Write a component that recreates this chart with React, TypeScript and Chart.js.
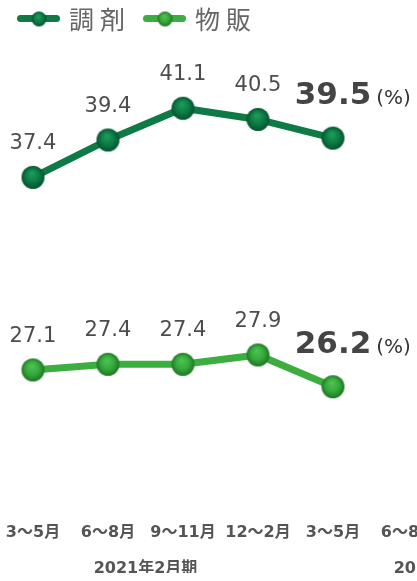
import { useEffect, useRef } from 'react';
import { Chart, registerables } from 'chart.js';

Chart.register(...registerables);

const categories = ['3〜5月', '6〜8月', '9〜11月', '12〜2月', '3〜5月', '6〜8月', '9〜11月', '12〜2月'];
const fiscalYears = ['2021年2月期', '2022年2月期'];
const quartersPerYear = 4;
const seriesNames = ['調剤', '物販'];
const dispensing: (number | null)[] = [37.4, 39.4, 41.1, 40.5, 39.5, null, null, null];
const merchandise: (number | null)[] = [27.1, 27.4, 27.4, 27.9, 26.2, null, null, null];
const unitLabel = '(%)';

const palette = [
  { line: '#0e7a46', light: '#1c9a5c', mid: '#0c7a45', dark: '#07532d' },
  { line: '#3bae3f', light: '#4cc152', mid: '#35a83b', dark: '#1f7624' },
];

function makePoint(r: number, c: { light: string; mid: string; dark: string }) {
  const s = Math.ceil(r * 2 + 2);
  const cv = document.createElement('canvas');
  cv.width = s;
  cv.height = s;
  const ctx = cv.getContext('2d')!;
  const cx = s / 2;
  const cy = s / 2;
  const g = ctx.createRadialGradient(cx - r * 0.1, cy - r * 0.35, r * 0.1, cx, cy, r);
  g.addColorStop(0, c.light);
  g.addColorStop(0.55, c.mid);
  g.addColorStop(1, c.dark);
  ctx.fillStyle = g;
  ctx.beginPath();
  ctx.arc(cx, cy, r, 0, Math.PI * 2);
  ctx.fill();
  return cv;
}

const numFont = '"DejaVu Sans", "Noto Sans CJK JP", sans-serif';

export default function App() {
  const ref = useRef<HTMLCanvasElement>(null);

  useEffect(() => {
    if (!ref.current) return;
    const bigPoints = palette.map((c) => makePoint(11.5, c));
    const legendPoints = palette.map((c) => makePoint(7.5, c));

    const labelPlugin = {
      id: 'valueLabels',
      afterDatasetsDraw(chart: any) {
        const ctx = chart.ctx as CanvasRenderingContext2D;
        chart.data.datasets.forEach((ds: any, di: number) => {
          const meta = chart.getDatasetMeta(di);
          const vals = ds.data as (number | null)[];
          let last = -1;
          vals.forEach((v, i) => {
            if (v != null) last = i;
          });
          meta.data.forEach((pt: any, i: number) => {
            const v = vals[i];
            if (v == null) return;
            const txt = v.toFixed(1);
            ctx.save();
            ctx.textAlign = 'center';
            ctx.textBaseline = 'alphabetic';
            if (i === last) {
              ctx.font = `bold 31px ${numFont}`;
              ctx.fillStyle = '#444444';
              ctx.fillText(txt, pt.x, pt.y - 34);
              const w = ctx.measureText(txt).width;
              ctx.font = `20px ${numFont}`;
              ctx.textAlign = 'left';
              ctx.fillStyle = '#333333';
              ctx.fillText(unitLabel, pt.x + w / 2 + 5, pt.y - 34);
            } else {
              ctx.font = `21px ${numFont}`;
              ctx.fillStyle = '#4d4d4d';
              ctx.fillText(txt, pt.x, pt.y - 28);
            }
            ctx.restore();
          });
        });
      },
    };

    const legendPlugin = {
      id: 'lineLegend',
      afterDraw(chart: any) {
        const ctx = chart.ctx as CanvasRenderingContext2D;
        ctx.save();
        let x = 17;
        const y = 18.5;
        seriesNames.forEach((name, i) => {
          ctx.strokeStyle = palette[i].line;
          ctx.lineWidth = 7;
          ctx.lineCap = 'round';
          ctx.beginPath();
          ctx.moveTo(x + 3.5, y);
          ctx.lineTo(x + 39.5, y);
          ctx.stroke();
          const img = legendPoints[i];
          ctx.drawImage(img, x + 22 - img.width / 2, y + 0.5 - img.height / 2);
          ctx.font = `25px "Noto Sans CJK JP", sans-serif`;
          (ctx as any).letterSpacing = '6px';
          ctx.fillStyle = '#666666';
          ctx.textAlign = 'left';
          ctx.textBaseline = 'middle';
          const tx = x + 52;
          ctx.fillText(name, tx, y + 1);
          const w = ctx.measureText(name).width;
          x = tx + w + 12;
        });
        ctx.restore();
      },
    };

    const tickFont = { family: numFont, size: 16, weight: 'bold' as const };

    const chart = new Chart(ref.current, {
      type: 'line',
      data: {
        labels: categories,
        datasets: [
          {
            label: seriesNames[0],
            data: dispensing,
            borderColor: palette[0].line,
            borderWidth: 7,
            pointStyle: bigPoints[0] as any,
            pointRadius: 11.5,
            tension: 0,
            xAxisID: 'x',
            yAxisID: 'y',
            clip: false as any,
          },
          {
            label: seriesNames[1],
            data: merchandise,
            borderColor: palette[1].line,
            borderWidth: 7,
            pointStyle: bigPoints[1] as any,
            pointRadius: 11.5,
            tension: 0,
            xAxisID: 'x',
            yAxisID: 'y',
            clip: false as any,
          },
        ],
      },
      options: {
        animation: false,
        responsive: false,
        events: [],
        layout: { padding: { left: 33, right: 42, top: 54, bottom: 8 } },
        plugins: { legend: { display: false }, tooltip: { enabled: false } },
        scales: {
          x: {
            type: 'category',
            offset: false,
            weight: 0,
            grid: { display: false, drawTicks: false },
            border: { display: false },
            ticks: { font: tickFont, color: '#555555', padding: 21, maxRotation: 0, autoSkip: false },
            afterFit: (s: any) => {
              s.height = 47.2;
              s.paddingLeft = 0;
              s.paddingRight = 0;
            },
          },
          x2: {
            type: 'linear',
            position: 'bottom',
            weight: 1,
            min: 0,
            max: categories.length - 1,
            grid: { display: false, drawTicks: false },
            border: { display: false },
            afterBuildTicks: (s: any) => {
              s.ticks = fiscalYears.map((_, i) => ({ value: i * quartersPerYear + (quartersPerYear - 1) / 2 }));
            },
            afterFit: (s: any) => {
              s.height = 23.2;
              s.paddingLeft = 0;
              s.paddingRight = 0;
            },
            ticks: {
              font: tickFont,
              color: '#555555',
              padding: 9,
              maxRotation: 0,
              autoSkip: false,
              callback: (_v: any, i: number) => fiscalYears[i],
            },
          },
          y: { display: false, min: 20, max: 44 },
        },
      },
      plugins: [labelPlugin, legendPlugin],
    });
    return () => chart.destroy();
  }, []);

  return (
    <div
      style={{
        position: 'absolute',
        left: 0,
        top: 0,
        width: 417,
        height: 581,
        overflow: 'hidden',
        background: '#ffffff',
      }}
    >
      <canvas ref={ref} width={600} height={581} style={{ display: 'block' }} />
    </div>
  );
}
